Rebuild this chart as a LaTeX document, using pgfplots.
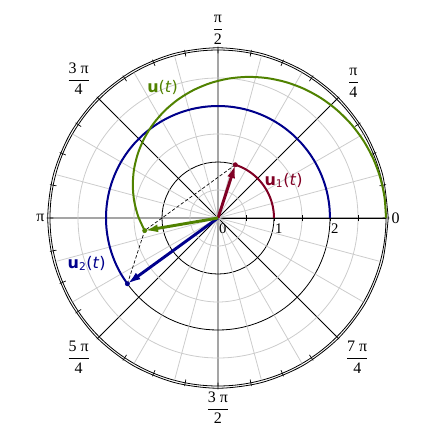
\documentclass[border=0pt]{standalone}
\usepackage{amsmath}
\usepackage{fontspec}
\setmainfont{Liberation Serif}
\newfontfamily\labfont{DejaVu Sans}
\usepackage{pgfplots}
\pgfplotsset{compat=1.18}
\usepgfplotslibrary{polar}
\usetikzlibrary{arrows.meta}

\definecolor{maplered}{RGB}{128,0,36}
\definecolor{mapleblue}{RGB}{0,0,140}
\definecolor{maplegreen}{RGB}{80,130,0}

% Maple-style fraction tick labels, set in the text font
\newcommand{\fr}[2]{$\dfrac{\text{#1}}{\text{#2}}$}

\begin{document}
\begin{tikzpicture}
\useasboundingbox (-163.5pt,-163.5pt) rectangle (163.5pt,163.5pt);
\begin{polaraxis}[
  at={(0,0)}, anchor=center,
  width=252pt, height=252pt, scale only axis,
  xmin=0, xmax=360, ymin=0, ymax=3,
  xtick={0,45,...,315},
  xticklabels={0, \fr{π}{4}, \fr{π}{2}, \fr{3 π}{4}, π, \fr{5 π}{4}, \fr{3 π}{2}, \fr{7 π}{4}},
  minor x tick num=3,
  ytick={0,1,2}, yticklabel=\empty,
  minor ytick={0.5,1.5,2.5},
  xmajorgrids, ymajorgrids, yminorgrids,
  major grid style={black, line width=0.6pt},
  minor grid style={gray!40, line width=0.6pt},
  extra x ticks={15,30,60,75,105,120,150,165,195,210,240,255,285,300,330,345},
  extra x tick labels={},
  extra x tick style={grid=major, major grid style={gray!40, line width=0.6pt}, major tick length=0pt},
  axis line style={black, line width=0.6pt},
  tick style={black, line width=0.5pt},
  tick align=center, major tick length=5pt, minor tick length=5pt,
  xticklabel style={font=\fontsize{12}{13}\selectfont, inner sep=6.5pt},
  clip=false,
]

% outer frame ring (Maple draws a double circle)
\addplot[black, line width=0.6pt, smooth, forget plot] coordinates {
  (0,3.04) (15,3.04) (30,3.04) (45,3.04) (60,3.04) (75,3.04) (90,3.04) (105,3.04)
  (120,3.04) (135,3.04) (150,3.04) (165,3.04) (180,3.04) (195,3.04) (210,3.04)
  (225,3.04) (240,3.04) (255,3.04) (270,3.04) (285,3.04) (300,3.04) (315,3.04)
  (330,3.04) (345,3.04) (360,3.04)
};

% u1(t): unit circle arc
\addplot[maplered, line width=1.5pt, smooth] coordinates {
  (0,1) (6,1) (12,1) (18,1) (24,1) (30,1) (36,1) (42,1) (48,1) (54,1) (60,1) (66,1) (72,1)
};
% u2(t): circle of radius 2
\addplot[mapleblue, line width=1.5pt, smooth] coordinates {
  (0,2) (6,2) (12,2) (18,2) (24,2) (30,2) (36,2) (42,2) (48,2) (54,2) (60,2) (66,2)
  (72,2) (78,2) (84,2) (90,2) (96,2) (102,2) (108,2) (114,2) (120,2) (126,2) (132,2)
  (138,2) (144,2) (150,2) (156,2) (162,2) (168,2) (174,2) (180,2) (186,2) (192,2)
  (198,2) (204,2) (210,2) (216,2)
};
% u(t) = u1 + u2, angle/radius pairs
\addplot[maplegreen, line width=1.5pt, smooth] coordinates {
  (0,3) (7.00,2.99634) (14.01,2.98540) (21.02,2.96719) (28.05,2.94180)
  (35.10,2.90931) (42.18,2.86985) (49.29,2.82357) (56.44,2.77065) (63.64,2.71130)
  (70.89,2.64575) (78.21,2.57429) (85.61,2.49721) (93.11,2.41488) (100.70,2.32769)
  (108.43,2.23607) (116.31,2.14054) (124.37,2.04166) (132.64,1.94009) (141.17,1.83659)
  (150,1.73205) (159.19,1.62753) (168.82,1.52430) (178.97,1.42388) (189.73,1.32813)
};

% parallelogram
\addplot[black, line width=0.5pt, dash pattern=on 2.5pt off 1.5pt] coordinates {(72,1) (189.73,1.32813)};
\addplot[black, line width=0.5pt, dash pattern=on 2.5pt off 1.5pt] coordinates {(216,2) (189.73,1.32813)};

% vectors
\addplot[maplered, line width=2.2pt, -{Latex[length=10pt,width=6pt]}] coordinates {(0,0) (72,1)};
\addplot[mapleblue, line width=2.2pt, -{Latex[length=10pt,width=6pt]}] coordinates {(0,0) (216,2)};
\addplot[maplegreen, line width=2.2pt, -{Latex[length=10pt,width=6pt]}] coordinates {(0,0) (189.73,1.32813)};

\addplot[only marks, mark=*, mark size=1.6pt, maplered] coordinates {(72,1)};
\addplot[only marks, mark=*, mark size=1.6pt, mapleblue] coordinates {(216,2)};
\addplot[only marks, mark=*, mark size=1.6pt, maplegreen] coordinates {(189.73,1.32813)};

% radial tick labels, below the 0 ray
\node[anchor=north west, inner sep=0pt, xshift=0.6pt, yshift=-3.8pt, font=\fontsize{11}{12}\selectfont] at (axis cs:0,0) {0};
\node[anchor=north west, inner sep=0pt, xshift=0.6pt, yshift=-3.8pt, font=\fontsize{11}{12}\selectfont] at (axis cs:0,1) {1};
\node[anchor=north west, inner sep=0pt, xshift=0.6pt, yshift=-3.8pt, font=\fontsize{11}{12}\selectfont] at (axis cs:0,2) {2};

\node[maplegreen, font=\labfont\fontsize{12}{14}\selectfont] at (axis cs:113,2.53) {\textbf{u}(\textit{t})};
\node[maplered, font=\labfont\fontsize{12}{14}\selectfont] at (axis cs:29.8,1.35) {\textbf{u}\textsubscript{1}(\textit{t})};
\node[mapleblue, font=\labfont\fontsize{12}{14}\selectfont] at (axis cs:199,2.48) {\textbf{u}\textsubscript{2}(\textit{t})};
\end{polaraxis}
\end{tikzpicture}
\end{document}
